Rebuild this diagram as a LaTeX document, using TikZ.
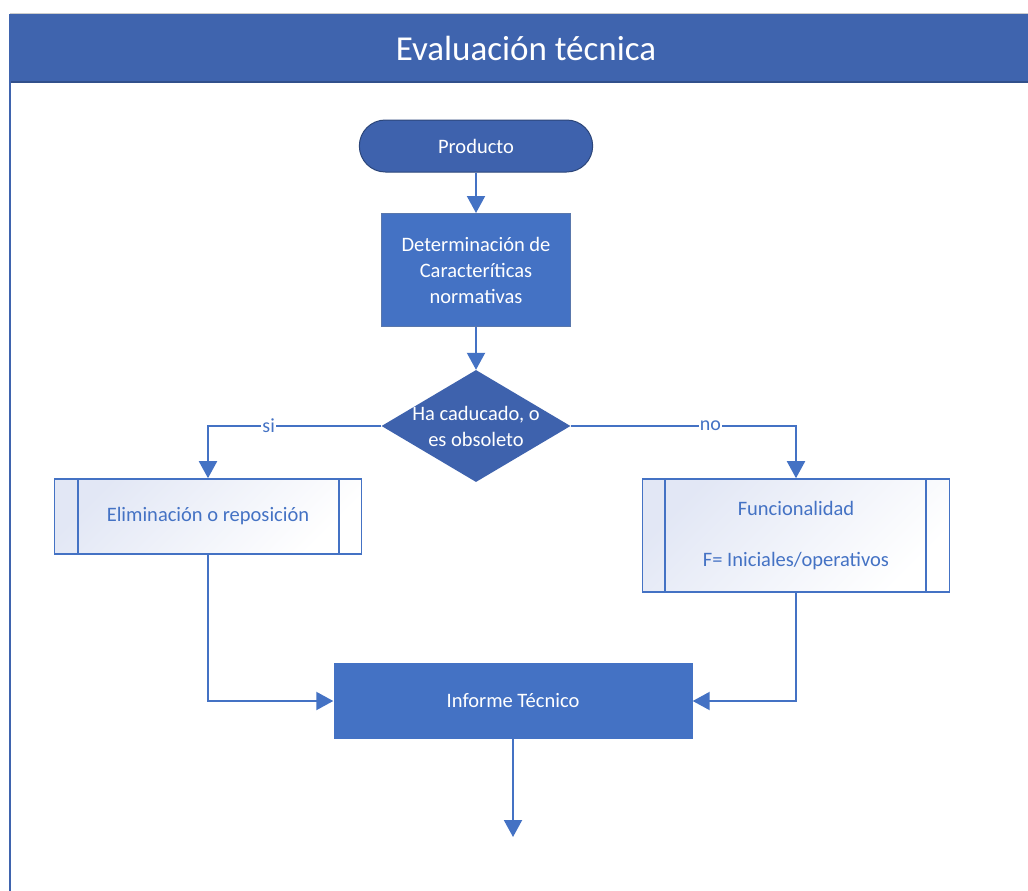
\documentclass[tikz,border=0pt]{standalone}
\usepackage{fontspec}
\setmainfont{Carlito}
\usetikzlibrary{shapes.geometric,shapes.misc,arrows.meta}
\definecolor{hdr}{HTML}{3F64AE}
\definecolor{dk}{HTML}{3E62AD}
\definecolor{md}{HTML}{4472C4}
\definecolor{ln}{HTML}{4472C4}
\definecolor{pale}{HTML}{E2E7F5}
\tikzset{
  flow/.style={draw=ln, line width=2pt, line join=miter, -{Triangle[width=18pt,length=17pt]}},
  lbl/.style={fill=white, text=ln, font=\fontsize{20}{24}\selectfont, inner sep=1pt},
  whitetext/.style={text=white, font=\fontsize{20.5}{26}\selectfont, align=center},
  subproc/.style={draw=ln, line width=1.6pt, text=ln, font=\fontsize{20.5}{26}\selectfont, align=center, left color=pale, right color=white, shading angle=45, inner sep=0pt},
}
\begin{document}
\begin{tikzpicture}[x=1pt,y=-1pt]
\useasboundingbox (0,0) rectangle (1028,891);
\clip (0,0) rectangle (1028,891);
% frame
\fill[white] (0,0) rectangle (1028,891);
\fill[hdr] (10,14) rectangle (1040,82);
\draw[draw=gray!40, line width=1pt] (10,14) -- (1040,14);
\draw[draw=hdr!80!black, line width=1.5pt] (10,82) -- (1040,82);
\draw[draw=hdr, line width=1.6pt] (10,14) -- (10,895);
\node[text=white, font=\fontsize{35}{40}\selectfont] (title) at (526,48) {Evaluación técnica};
% nodes
\node[draw=hdr!70!black, line width=1pt, fill=dk, rounded rectangle, minimum width=240pt, minimum height=52pt, whitetext] (prod) at (476,146) {Producto};
\node[draw=gray!35!md, line width=1pt, fill=md, minimum width=189pt, minimum height=113pt, whitetext] (det) at (476,270) {Determinación de\\Caracteríticas\\normativas};
\node[fill=dk, diamond, minimum width=189pt, minimum height=112pt, whitetext, inner sep=-6pt, aspect=1.69] (dec) at (476,426) {Ha caducado, o\\es obsoleto};
\node[subproc, minimum width=307pt, minimum height=75pt] (elim) at (208,516.5) {Eliminación o reposición};
\draw[draw=ln, line width=1.6pt] (78,479) -- (78,554) (339,479) -- (339,554);
\node[subproc, minimum width=307pt, minimum height=113pt] (func) at (796,535.5) {Funcionalidad\\[25pt]F= Iniciales/operativos};
\draw[draw=ln, line width=1.6pt] (665,479) -- (665,592) (926,479) -- (926,592);
\node[fill=md, minimum width=359pt, minimum height=76pt, whitetext] (inf) at (513,701) {Informe Técnico};
\coordinate (end) at (513,837);
% connectors
\draw[flow] (prod.south) -- (det.north);
\draw[flow] (det.south) -- (dec.north);
\draw[flow] (dec.west) -- (elim.north |- dec.west) node[lbl, pos=0.65] {si} -- (elim.north);
\draw[flow] (dec.east) -- (func.north |- dec.east) node[lbl, pos=0.62] {no} -- (func.north);
\draw[flow] (elim.south) -- (elim.south |- inf.west) -- (inf.west);
\draw[flow] (func.south) -- (func.south |- inf.east) -- (inf.east);
\draw[flow] (inf.south) -- (end);
\end{tikzpicture}
\end{document}
